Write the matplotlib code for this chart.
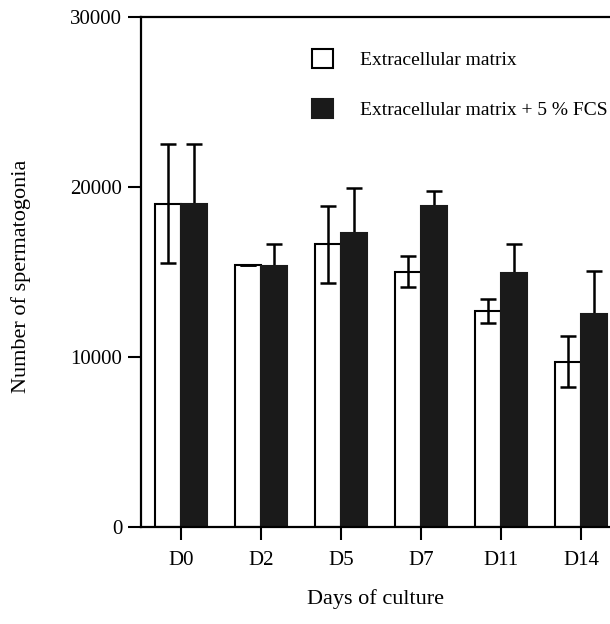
import numpy as np
import matplotlib
matplotlib.use('Agg')
import matplotlib.pyplot as plt

plt.rcParams['font.family'] = ['Liberation Serif', 'DejaVu Serif']

# Data
days = ['D0', 'D2', 'D5', 'D7', 'D11', 'D14']
ecm = [19000, 15400, 16600, 15000, 12700, 9700]
ecm_err = [3500, 0, 2250, 900, 700, 1500]
ecm_fcs = [19000, 15350, 17250, 18850, 14950, 12500]
ecm_fcs_err = [3500, 1300, 2650, 900, 1700, 2550]
labels = ['Extracellular matrix', 'Extracellular matrix + 5 % FCS']

x = np.arange(len(days))
w = 0.325

fig = plt.figure(figsize=(6.10, 6.24), dpi=100)
ax = fig.add_axes([0.2311, 0.156, 0.7689, 0.8173])

b1 = ax.bar(x - w / 2, ecm, w, color='white', edgecolor='black',
            linewidth=1.5, label=labels[0], zorder=2)
b2 = ax.bar(x + w / 2, ecm_fcs, w, color='#1a1a1a', edgecolor='#1a1a1a',
            linewidth=1.5, label=labels[1], zorder=2)

ax.errorbar(x - w / 2, ecm, yerr=ecm_err, fmt='none', ecolor='black',
            elinewidth=1.8, capsize=6, capthick=1.8, zorder=3)
ax.errorbar(x + w / 2, ecm_fcs, yerr=ecm_fcs_err, fmt='none',
            ecolor='black', elinewidth=1.8, capsize=6, capthick=1.8, zorder=1)

ax.set_xlim(-0.5, 5.36)
ax.set_ylim(0, 30000)
ax.set_yticks([0, 10000, 20000, 30000])
ax.set_xticks(x)
ax.set_xticklabels(days)

for s in ['left', 'top', 'bottom']:
    ax.spines[s].set_linewidth(1.6)
ax.spines['right'].set_visible(False)
ax.tick_params(axis='both', direction='out', length=9.5, width=1.5,
               labelsize=15, colors='black')
ax.tick_params(axis='y', pad=4)
ax.tick_params(axis='x', pad=8)

ax.set_ylabel('Number of spermatogonia', fontsize=16)
ax.yaxis.set_label_coords(-0.234, 0.49)
ax.set_xlabel('Days of culture', fontsize=16)
ax.xaxis.set_label_coords(0.5, -0.123)

ax.legend(handles=[b1, b2], loc='upper left', bbox_to_anchor=(0.4951, 0.937),
          bbox_transform=fig.transFigure, borderpad=0,
          frameon=False, fontsize=14, handlelength=1.1, handleheight=1.1,
          handletextpad=1.4, labelspacing=1.55)

fig.savefig('out.png', dpi=100)
